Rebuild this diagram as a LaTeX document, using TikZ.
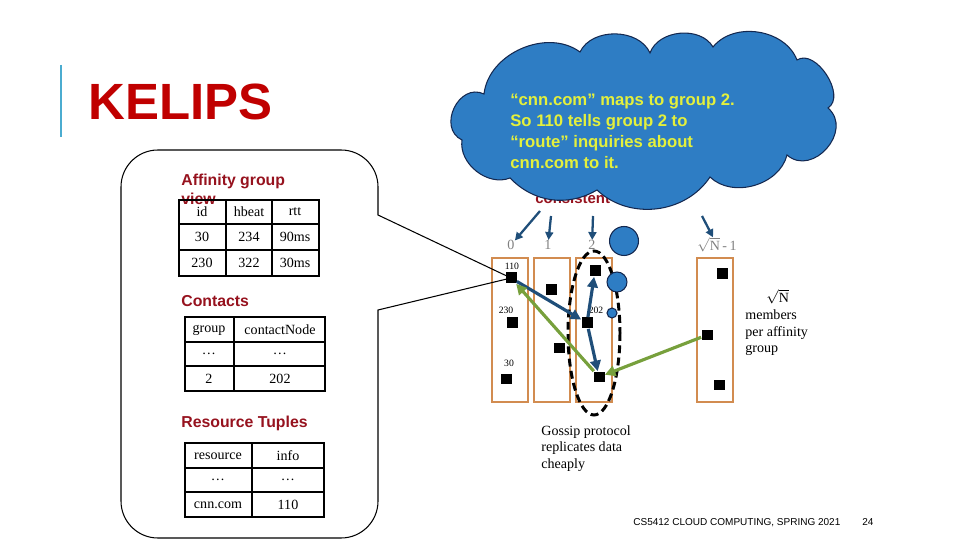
\documentclass[tikz,border=0pt]{standalone}
\usepackage{fontspec}
\setmainfont{Liberation Serif}
\setsansfont{Liberation Sans}
\usetikzlibrary{arrows.meta}
\definecolor{kred}{RGB}{192,0,0}
\definecolor{hred}{RGB}{150,18,30}
\definecolor{barblue}{RGB}{75,172,208}
\definecolor{grpbrown}{RGB}{210,140,80}
\definecolor{arrblue}{RGB}{31,78,121}
\definecolor{arrgreen}{RGB}{119,160,60}
\definecolor{cloudblue}{RGB}{46,125,196}
\definecolor{cloudline}{RGB}{20,40,80}
\definecolor{cyellow}{RGB}{228,240,60}
\tikzset{
	sq/.style={fill=black,minimum size=0.22cm,inner sep=0pt},
	grp/.style={draw=grpbrown,line width=0.8pt},
	tab/.style={line width=1.1pt},
	cell/.style={font=\fontsize{8}{9}\selectfont},
	head/.style={font=\sffamily\bfseries\fontsize{9}{10.4}\selectfont,text=hred,anchor=base west},
	idlab/.style={font=\fontsize{5.5}{6}\selectfont},
	collab/.style={font=\fontsize{8}{9}\selectfont,text=gray},
	route/.style={arrblue,line width=1.8pt,-{Triangle[length=6pt,width=6pt]}},
	reply/.style={arrgreen,line width=1.8pt,-{Triangle[length=6pt,width=6pt]}},
	hashto/.style={arrblue,line width=1.3pt,-{Triangle[length=4.5pt,width=4.5pt]}},
	bubble/.style={circle,fill=cloudblue,draw=cloudline,line width=0.6pt,inner sep=0pt},
	note/.style={font=\fontsize{8}{9.6}\selectfont,align=left}
}
\begin{document}
\begin{tikzpicture}[x=0.02cm,y=-0.02cm,every node/.style={inner sep=0pt}]
	\useasboundingbox (0,0) rectangle (960,540);
	
	% title
	\draw[barblue,line width=1.7pt](61,65)--(61,137);
	\node[font=\sffamily\bfseries\fontsize{29}{32}\selectfont,text=kred,anchor=base west](title)at(88,120){KELIPS};
	
	% affinity groups
	\foreach \x in{492,534,576,697}
	\draw[grp](\x,258)rectangle++(36,144);
	
	\foreach \n/\x/\y in{s01/511/278,s02/512/323,s03/506/379,s11/551/290,s12/559/348,s21/595/271,s22/587/323,s23/599/377,s31/722/274,s32/707/335,s33/719/385}
	\node[sq](\n)at(\x,\y){};
	
	\node[idlab](l110)at(512,266){110};
	\node[idlab](l230)at(506,310){230};
	\node[idlab](l30)at(509,363){30};
	\node[idlab](l202)at(596,310){202};
	
	\node[collab](g0)at(511,245){0};
	\node[collab](g1)at(548,245){1};
	\node[collab](g2)at(592,245){2};
	\node[collab](g3)at(717,245){$\sqrt{\mathrm{N}}\,$-$\,$1};
	
	% node view callout
	\draw[line width=0.6pt](378,200)--(378,215)--(s01.center)--(378,310)--(378,330)
	[rounded corners=21pt]--(378,538)--(121,538)--(121,150)--(378,150)--(378,200);
	
	\node[head,align=left,anchor=north west](aff)at(181,174){Affinity group\\view};
	\draw[tab](179,200)rectangle(319,276);
	\draw[tab](179,224)--(319,224)(179,250)--(319,250)(226,200)--(226,276)(272,200)--(272,276);
	\foreach \x/\y/\t in{202/212/id,249/212/hbeat,295/212/rtt,202/237/30,249/237/234,295/237/90ms,202/263/230,249/263/322,295/263/30ms}
	\node[cell]at(\x,\y){\t};
	
	\node[head](cont)at(181,307){Contacts};
	\draw[tab](185,317)rectangle(325,391);
	\draw[tab](185,342)--(325,342)(185,366)--(325,366)(234,317)--(234,391);
	\foreach \x/\y/\t in{209/330/group,280/330/contactNode,209/354/\ldots,280/354/\ldots,209/379/2,280/379/202}
	\node[cell]at(\x,\y){\t};
	
	\node[head](res)at(181,427){Resource Tuples};
	\draw[tab](185,443)rectangle(324,517);
	\draw[tab](185,468)--(324,468)(185,492)--(324,492)(252,443)--(252,517);
	\foreach \x/\y/\t in{218/456/resource,288/456/info,218/480/\ldots,288/480/\ldots,218/505/cnn.com,288/505/110}
	\node[cell]at(\x,\y){\t};
	
	% gossip inside group 2
	\draw[line width=1.7pt,dash pattern=on 4.5pt off 2.5pt](594,333)ellipse[x radius=26,y radius=82];
	\draw[route](s01)--(s22);
	\draw[route](s22)--(s21);
	\draw[route](s22)--(s23);
	\draw[reply](s23)--(s01);
	\draw[reply](s32)--(s23);
	
	\node[note,anchor=north west](gossip)at(541,425){Gossip protocol\\replicates data\\cheaply};
	\node[note,anchor=north west](members)at(745,289){\hspace{12pt}$\sqrt{\mathrm{N}}$\\members\\per affinity\\group};
	
	% hashing, mostly under the cloud
	\node[head,font=\sffamily\bfseries\fontsize{8.5}{10}\selectfont](hash)at(535,204){consistent hashing};
	\coordinate(h0)at(540,211);
	\coordinate(h1)at(551,216);
	\coordinate(h2)at(593,216);
	\coordinate(h3)at(702,216);
	\draw[hashto](h0)--(g0);
	\draw[hashto](h1)--(g1);
	\draw[hashto](h2)--(g2);
	\draw[hashto](h3)--(g3);
	
	\node[bubble,minimum size=0.58cm](b1)at(624,241){};
	\node[bubble,minimum size=0.4cm](b2)at(617,282){};
	\node[bubble,minimum size=0.2cm](b3)at(612,313){};
	\filldraw[fill=cloudblue,draw=cloudline,line width=0.6pt](484,94)
	to[bend left=60](580,52)to[bend left=65](650,53)to[bend left=65](713,47)
	to[bend left=60](797,60)to[bend left=90](828,108)to[bend left=90,looseness=1.4](787,155)
	to[bend left=60](710,177)to[bend left=50](597,190)to[bend left=38](510,178)
	to[bend left=60](462,140)to[bend left=90,looseness=1.4](484,94)--cycle;
	\node[font=\sffamily\bfseries\fontsize{9.5}{11.9}\selectfont,text=cyellow,align=left,anchor=west](say)at(510,131){“cnn.com” maps to group 2.\\So 110 tells group 2 to\\“route” inquiries about\\cnn.com to it.};
	
	% footer
	\node[font=\sffamily\fontsize{5.7}{7}\selectfont,anchor=base west](foot)at(633,525){CS5412 CLOUD COMPUTING, SPRING 2021};
	\node[font=\sffamily\fontsize{5.7}{7}\selectfont,anchor=base west](page)at(862,525){24};
\end{tikzpicture}
\end{document}
